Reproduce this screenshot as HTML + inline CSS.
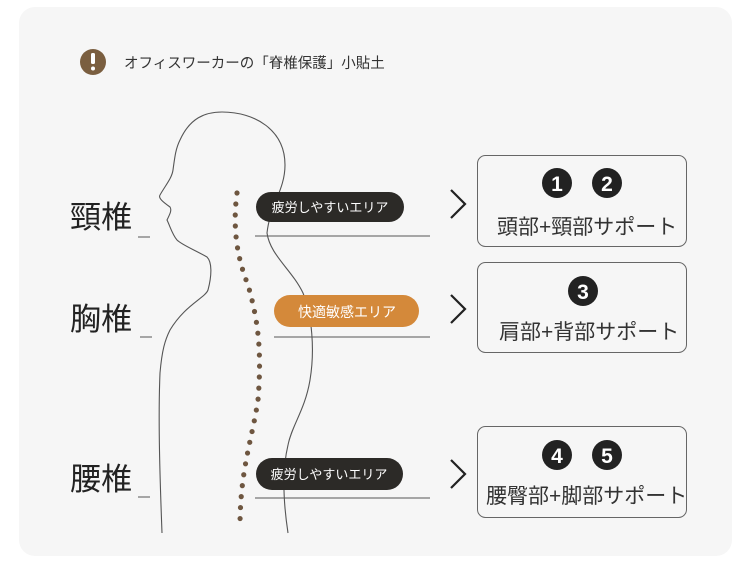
<!DOCTYPE html>
<html><head><meta charset="utf-8"><style>
body{margin:0;width:750px;height:564px;background:#fff;overflow:hidden;font-family:"Liberation Sans","Noto Sans CJK JP",sans-serif;}
.card{position:absolute;left:19px;top:7px;width:713px;height:549px;background:#f6f6f6;border-radius:16px;}
</style></head><body>
<div class="card"></div>
<svg width="750" height="564" style="position:absolute;left:0;top:0" xmlns="http://www.w3.org/2000/svg">
<circle cx="93" cy="62" r="13" fill="#7a5e3f"/>
<rect x="91" y="53" width="4" height="11" rx="1.5" fill="#fff"/>
<circle cx="93" cy="68.5" r="2" fill="#fff"/>
<text x="124" y="68" font-size="14.5" fill="#333" font-family="Liberation Sans, Noto Sans CJK JP, sans-serif">オフィスワーカーの「脊椎保護」小貼土</text>
<g fill="none" stroke="#555" stroke-width="1.1">
<path d="M162,533 C160,480 158,420 160,373 C162,350 165,340 170,330 C185,305 205,298 208,290 C212,275 212,262 207,257 C195,250 182,245 177,240 C172,234 170,226 167,220 C170,214 172,210 170,207 C163,202 158,198 160,195 C165,186 172,178 173,170 C175,155 176,148 180,140 C190,118 205,112 222,112 C255,112 285,130 285,165 C285,190 270,205 267,233 C270,255 292,270 303,293 C312,315 315,350 310,380 C305,410 292,425 288,445 C282,470 283,500 288,533"/>
</g>
<path d="M237,193 C232,230 238,260 248,285 C258,320 262,350 258,400 C252,440 240,470 240,527" fill="none" stroke="#6e5640" stroke-width="5.2" stroke-linecap="round" stroke-dasharray="0 11"/>
<g stroke="#555" stroke-width="1">
<line x1="255" y1="236" x2="430" y2="236"/>
<line x1="274" y1="337" x2="430" y2="337"/>
<line x1="255" y1="498" x2="430" y2="498"/>
<line x1="138" y1="237" x2="150" y2="237"/>
<line x1="140" y1="337" x2="152" y2="337"/>
<line x1="138" y1="497" x2="150" y2="497"/>
</g>
<rect x="256" y="192" width="148" height="30" rx="15" fill="#2c2a27"/>
<rect x="274" y="295" width="145" height="32" rx="16" fill="#d4893a"/>
<rect x="256" y="458" width="147" height="32" rx="16" fill="#2c2a27"/>
<text x="330" y="212" font-size="13" fill="#fff" text-anchor="middle" font-family="Liberation Sans, Noto Sans CJK JP, sans-serif">疲労しやすいエリア</text>
<text x="347" y="317" font-size="14" fill="#fff" text-anchor="middle" font-family="Liberation Sans, Noto Sans CJK JP, sans-serif">快適敏感エリア</text>
<text x="329" y="479" font-size="13" fill="#fff" text-anchor="middle" font-family="Liberation Sans, Noto Sans CJK JP, sans-serif">疲労しやすいエリア</text>
<g fill="none" stroke="#222" stroke-width="2.2">
<path d="M451,190 L465,204 L451,218"/>
<path d="M451,295 L465,309 L451,323"/>
<path d="M451,460 L465,474 L451,488"/>
</g>
<g fill="none" stroke="#666" stroke-width="1">
<rect x="477.5" y="155.5" width="209" height="91" rx="8"/>
<rect x="477.5" y="262.5" width="209" height="90" rx="8"/>
<rect x="477.5" y="426.5" width="209" height="91" rx="8"/>
</g>
<g fill="#222"><circle cx="557" cy="183" r="15"/><circle cx="607" cy="183" r="15"/><circle cx="583" cy="291" r="15"/><circle cx="557" cy="455" r="15"/><circle cx="607" cy="455" r="15"/></g>
<g fill="#fff" font-size="21" font-weight="bold" text-anchor="middle" font-family="Liberation Sans, sans-serif">
<text x="557" y="191">1</text><text x="607" y="191">2</text><text x="583" y="299">3</text><text x="557" y="463">4</text><text x="607" y="463">5</text>
</g>
<g fill="#333" font-size="21" font-family="Liberation Sans, Noto Sans CJK JP, sans-serif">
<text x="497" y="234">頭部+頸部サポート</text>
<text x="499" y="339">肩部+背部サポート</text>
<text x="486" y="503">腰臀部+脚部サポート</text>
</g>
<g fill="#222" font-size="31" font-family="Liberation Sans, Noto Sans CJK JP, sans-serif">
<text x="70" y="228">頸椎</text>
<text x="70" y="330">胸椎</text>
<text x="70" y="490">腰椎</text>
</g>
</svg>
</body></html>
